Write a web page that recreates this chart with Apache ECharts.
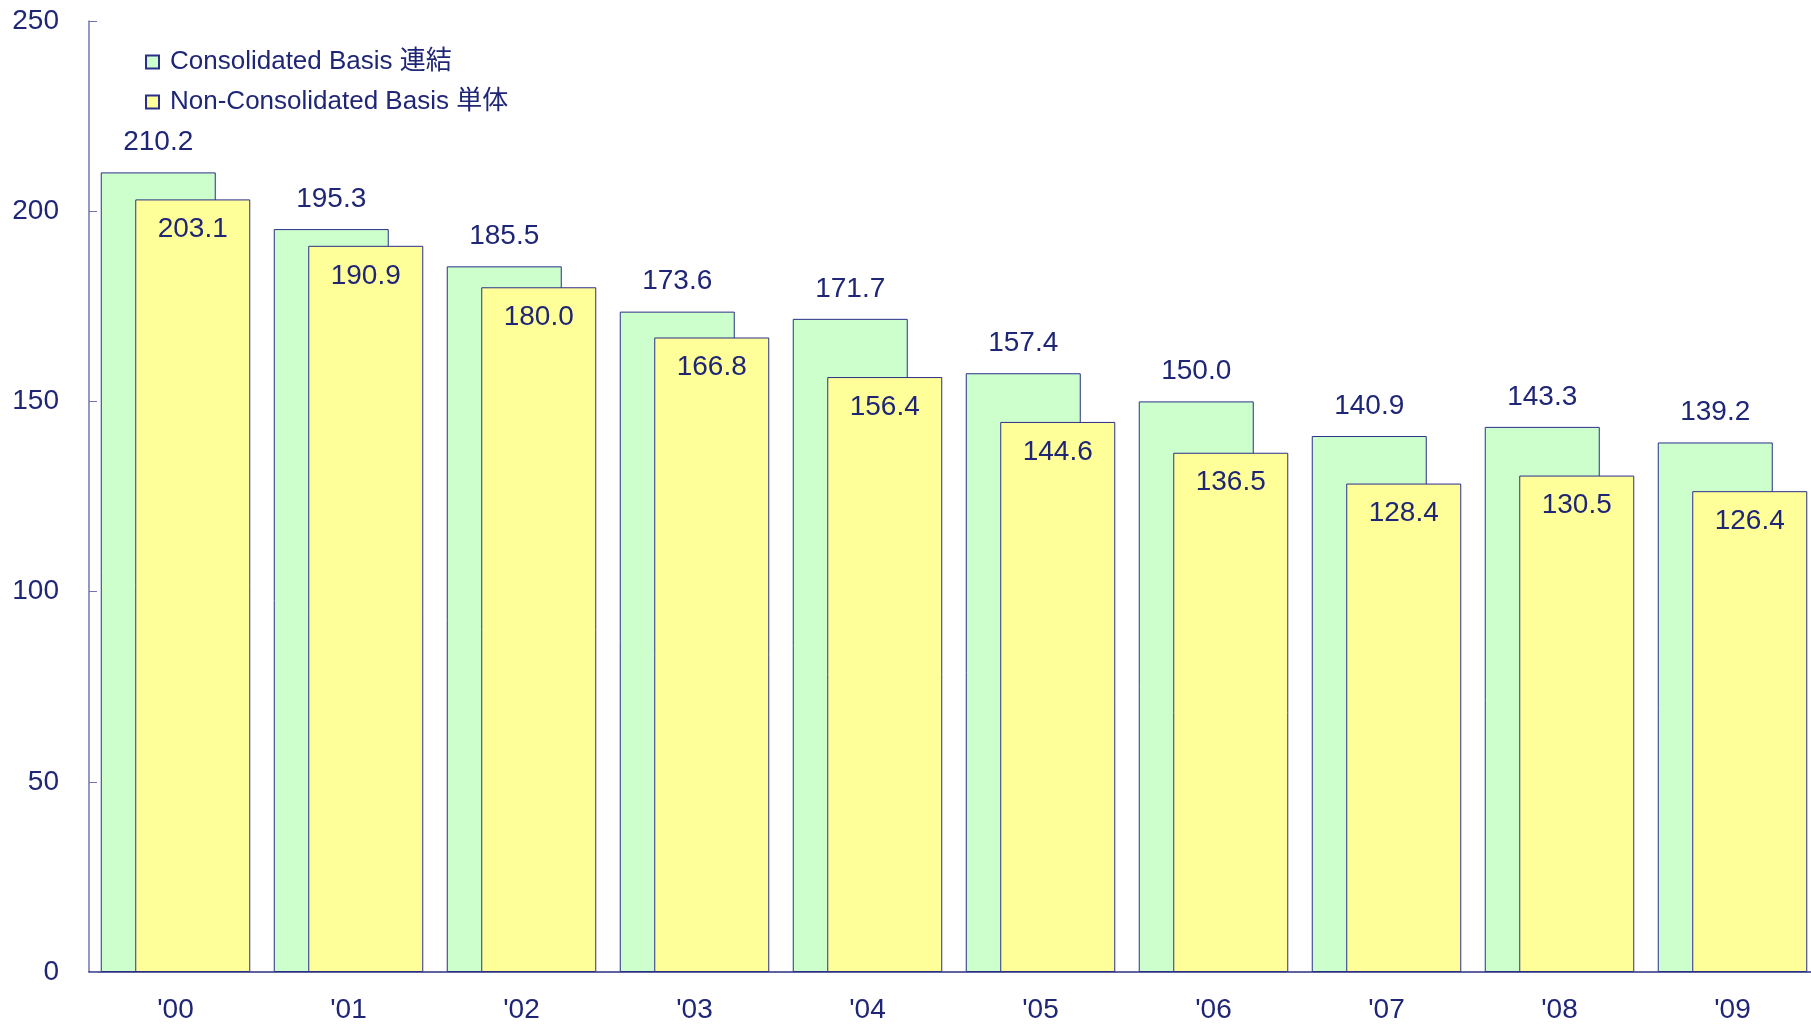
<!DOCTYPE html>
<html>
<head>
<meta charset="utf-8">
<script src="https://cdn.jsdelivr.net/npm/echarts@6/dist/echarts.min.js"></script>
<style>
  html, body { margin: 0; padding: 0; background: #fff; }
  #chart { width: 1811px; height: 1026px; }
</style>
</head>
<body>
<div id="chart"></div>
<script>
  // data
  const years = ["'00", "'01", "'02", "'03", "'04", "'05", "'06", "'07", "'08", "'09"];
  const consolidated = [210.2, 195.3, 185.5, 173.6, 171.7, 157.4, 150.0, 140.9, 143.3, 139.2];
  const nonConsolidated = [203.1, 190.9, 180.0, 166.8, 156.4, 144.6, 136.5, 128.4, 130.5, 126.4];
  const yTicks = [0, 50, 100, 150, 200, 250];

  const navy = '#1F2676';
  const font = '"Liberation Sans", Arial, "Noto Sans CJK JP", sans-serif';

  const chart = echarts.init(document.getElementById('chart'));
  const option = {
    animation: false,
    textStyle: { fontFamily: font },
    legend: {
      orient: 'vertical',
      left: 140,
      top: 44,
      itemWidth: 13,
      itemHeight: 13,
      itemGap: 14,
      icon: 'rect',
      textStyle: { color: navy, fontSize: 26, lineHeight: 26, fontFamily: font, padding: [0, 0, 0, 6] },
      data: ['Consolidated Basis 連結', 'Non-Consolidated Basis 単体']
    },
    grid: {
      left: 89,
      top: 21,
      width: 1730,
      height: 951,
      outerBoundsMode: 'none',
      containLabel: false
    },
    xAxis: {
      type: 'category',
      data: years,
      axisLine: { lineStyle: { color: '#2A2F80', width: 1.5 } },
      axisTick: { inside: true, length: 7, lineStyle: { color: '#5A5FA0' } },
      axisLabel: { color: navy, fontSize: 28, margin: 24 }
    },
    yAxis: {
      type: 'value',
      min: yTicks[0],
      max: yTicks[yTicks.length - 1],
      interval: 50,
      splitLine: { show: false },
      axisLine: { show: true, lineStyle: { color: '#6F74B0', width: 1.5 } },
      axisTick: { show: true, inside: true, length: 8, lineStyle: { color: '#6F74B0' } },
      axisLabel: { color: navy, fontSize: 28, margin: 30 }
    },
    series: [
      {
        name: 'Consolidated Basis 連結',
        type: 'bar',
        data: consolidated,
        barWidth: 115,
        barGap: '-70%',
        itemStyle: { color: '#CCFFCC', borderColor: '#2B2F8A', borderWidth: 1 },
        label: {
          show: true,
          position: 'top',
          distance: 16,
          color: navy,
          fontSize: 28,
          formatter: p => p.value.toFixed(1)
        }
      },
      {
        name: 'Non-Consolidated Basis 単体',
        type: 'bar',
        data: nonConsolidated,
        barWidth: 115,
        itemStyle: { color: '#FFFF99', borderColor: '#2B2F8A', borderWidth: 1 },
        label: {
          show: true,
          position: 'insideTop',
          distance: 16,
          color: navy,
          fontSize: 28,
          formatter: p => p.value.toFixed(1)
        }
      }
    ]
  };
  chart.setOption(option);
</script>
</body>
</html>
